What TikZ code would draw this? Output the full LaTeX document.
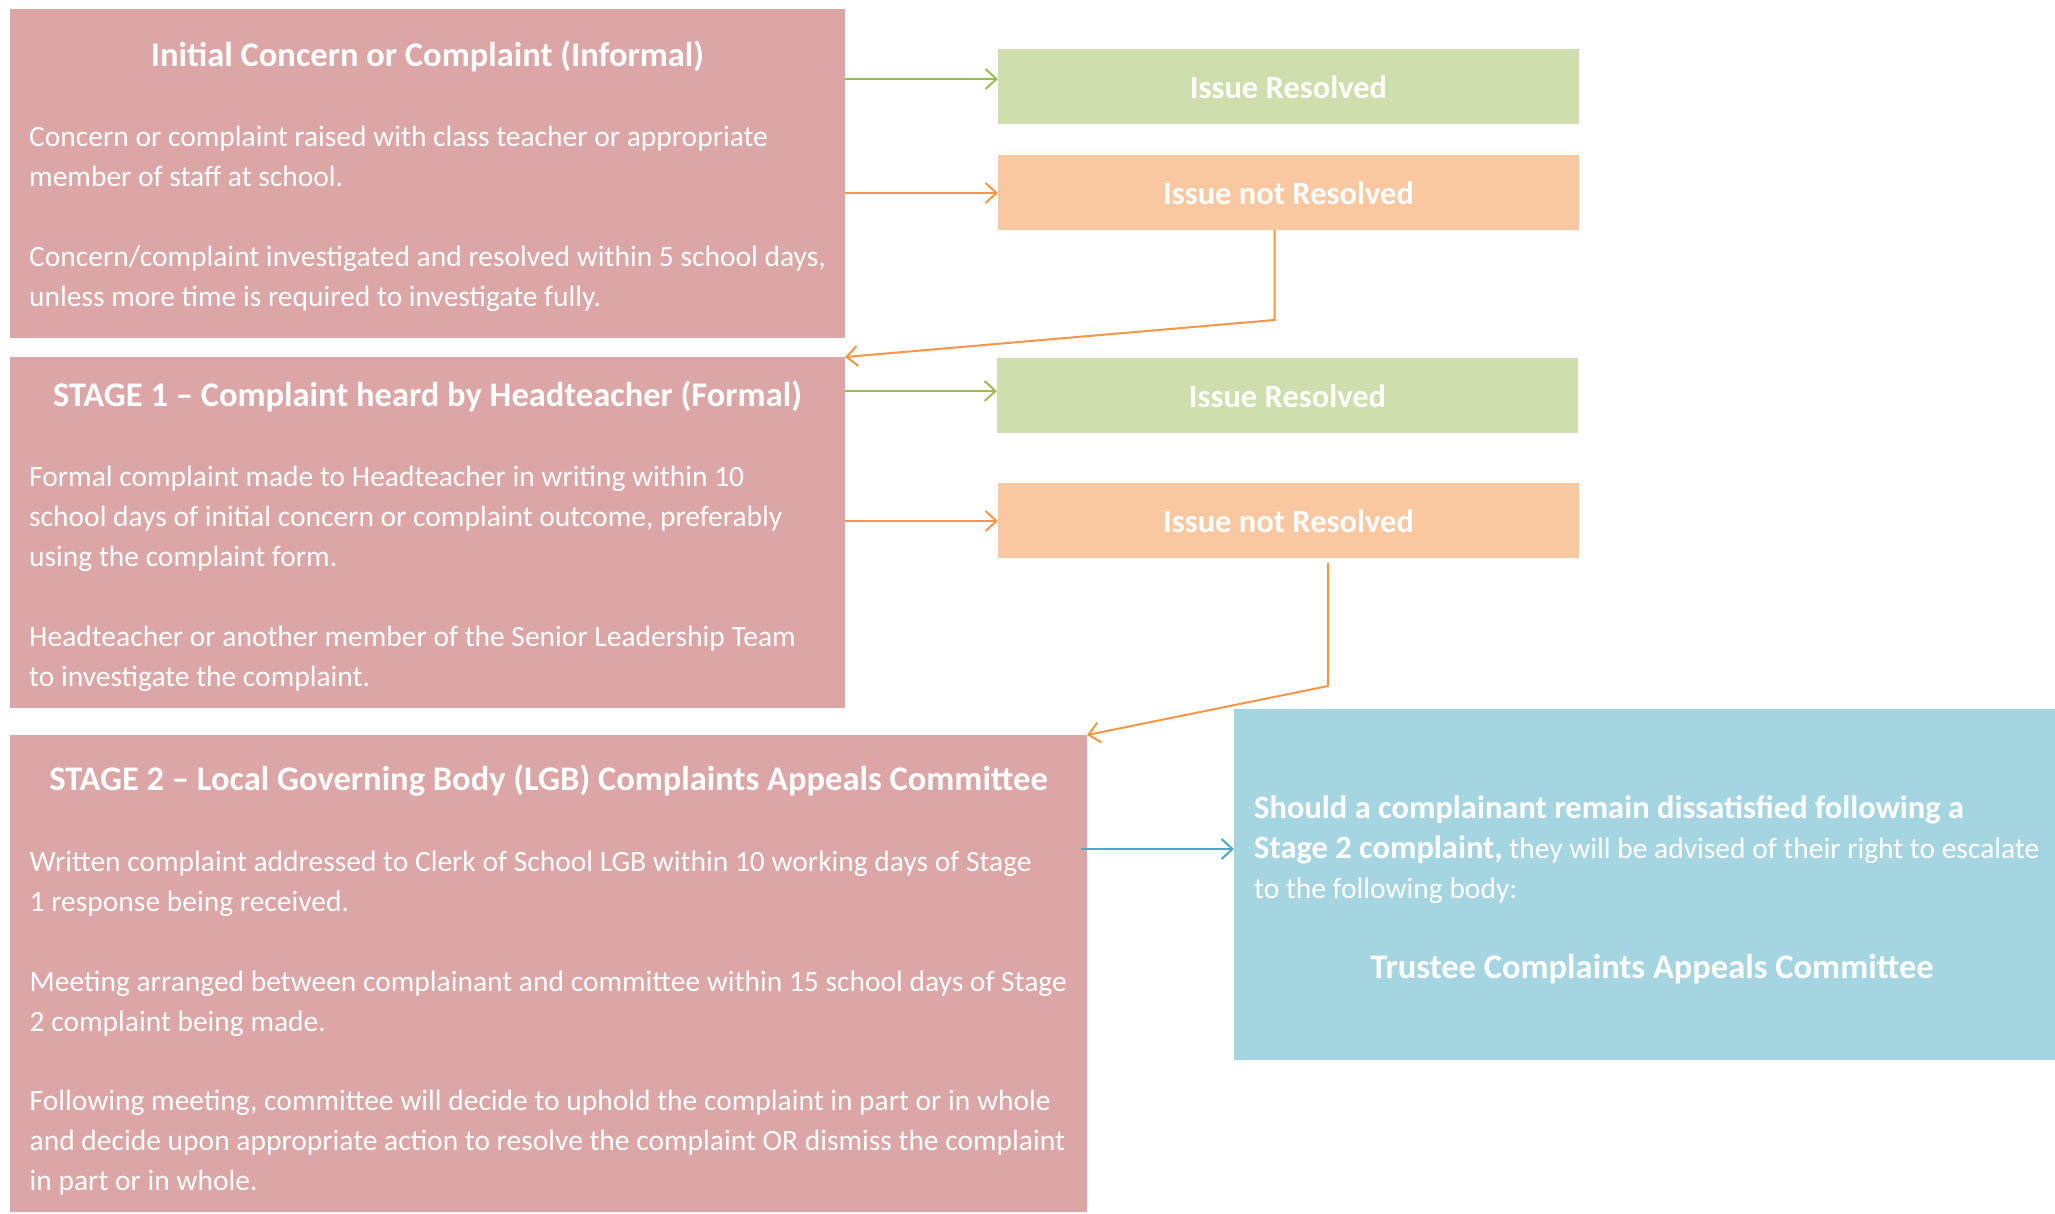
\documentclass[tikz,border=0pt]{standalone}
\usepackage{fontspec}
\setmainfont{Carlito}
\usetikzlibrary{arrows.meta,fit}
\definecolor{pinkbox}{HTML}{DDA6A6}
\definecolor{greenbox}{HTML}{CEDEAD}
\definecolor{orangebox}{HTML}{FAC8A0}
\definecolor{bluebox}{HTML}{A6D5E2}
\definecolor{greenline}{HTML}{9BBB59}
\definecolor{orangeline}{HTML}{F79646}
\definecolor{blueline}{HTML}{4BACC6}
\newcommand{\bodyfont}{\fontsize{29.5}{40}\selectfont}
\newcommand{\titlefont}{\fontsize{34.5}{40}\selectfont\bfseries}
\newcommand{\issuefont}{\fontsize{32.5}{40}\selectfont\bfseries}
\newcommand{\inbold}[1]{{\fontsize{32.5}{40}\selectfont\bfseries #1}}
\begin{document}
\begin{tikzpicture}[x=1pt,y=-1pt,
  panel/.style={inner sep=0pt, outer sep=0pt, draw=none, fill=#1},
  bodytext/.style={anchor=base west, align=left, inner sep=0pt, text=white, font=\bodyfont},
  titletext/.style={anchor=base, inner sep=0pt, text=white, font=\titlefont},
  issuetext/.style={anchor=base, inner sep=0pt, text=white, font=\issuefont},
  conn/.style={line width=2pt, draw=#1, -{Straight Barb[length=11pt,width=20pt,line width=2pt]}}
]
\useasboundingbox (0,0) rectangle (2055,1213);
\fill[white] (0,0) rectangle (2055,1213);

% panels
\node[panel=pinkbox, fit={(10,9) (845,338)}] (box1) {};
\node[panel=pinkbox, fit={(10,357) (845,708)}] (box2) {};
\node[panel=pinkbox, fit={(10,735) (1087,1212)}] (box3) {};
\node[panel=greenbox, fit={(998,49) (1579,124)}] (g1) {};
\node[panel=orangebox, fit={(998,155) (1579,230)}] (o1) {};
\node[panel=greenbox, fit={(997,358) (1578,433)}] (g2) {};
\node[panel=orangebox, fit={(998,483) (1579,558)}] (o2) {};
\node[panel=bluebox, fit={(1234,709) (2055,1060)}] (blue) {};

% box 1 texts (anchors at baseline of last line)
\node[titletext] (t1) at (427.5,66.7) {Initial Concern or Complaint (Informal)};
\node[bodytext] (b1a) at (29,186.5) {Concern or complaint raised with class teacher or appropriate\\member of staff at school.};
\node[bodytext] (b1b) at (29,306.5) {Concern/complaint investigated and resolved within 5 school days,\\unless more time is required to investigate fully.};

% box 2 texts
\node[titletext] (t2) at (427.5,406.7) {STAGE 1 -- Complaint heard by Headteacher (Formal)};
\node[bodytext] (b2a) at (29,566.7) {Formal complaint made to Headteacher in writing within 10\\school days of initial concern or complaint outcome, preferably\\using the complaint form.};
\node[bodytext] (b2b) at (29,686) {Headteacher or another member of the Senior Leadership Team\\to investigate the complaint.};

% box 3 texts
\node[titletext] (t3) at (548.5,790.7) {STAGE 2 -- Local Governing Body (LGB) Complaints Appeals Committee};
\node[bodytext] (b3a) at (29.5,911.7) {Written complaint addressed to Clerk of School LGB within 10 working days of Stage\\1 response being received.};
\node[bodytext] (b3b) at (29.5,1031.7) {Meeting arranged between complainant and committee within 15 school days of Stage\\2 complaint being made.};
\node[bodytext] (b3c) at (29.5,1190.7) {Following meeting, committee will decide to uphold the complaint in part or in whole\\and decide upon appropriate action to resolve the complaint OR dismiss the complaint\\in part or in whole.};

% outcome texts
\node[issuetext] (tg1) at ([yshift=-12]g1.center) {Issue Resolved};
\node[issuetext] (to1) at ([yshift=-12]o1.center) {Issue not Resolved};
\node[issuetext] (tg2) at ([yshift=-12]g2.center) {Issue Resolved};
\node[issuetext] (to2) at ([yshift=-12]o2.center) {Issue not Resolved};

% blue texts
\node[bodytext] (bl) at (1254,898) {\inbold{Should a complainant remain dissatisfied following a}\\\inbold{Stage 2 complaint,} they will be advised of their right to escalate\\to the following body:};
\node[titletext] (bt) at (1652,978) {Trustee Complaints Appeals Committee};

% connectors
\draw[conn=greenline] (box1.east |- 0,79) -- (g1.west |- 0,79);
\draw[conn=orangeline] (box1.east |- 0,193) -- (o1.west |- 0,193);
\coordinate (c1) at (1274.5,320);
\draw[conn=orangeline] (o1.south -| c1) -- (c1) -- (box2.north east);
\draw[conn=greenline] (box2.east |- 0,391) -- (g2.west |- 0,391);
\draw[conn=orangeline] (box2.east |- 0,521) -- (o2.west |- 0,521);
\coordinate (c2) at (1328,686);
\coordinate (c2s) at (1328,563);
\draw[conn=orangeline] (c2s) -- (c2) -- (box3.north east);
\draw[conn=blueline] (1081,849) -- (blue.west |- 0,849);
\end{tikzpicture}
\end{document}
